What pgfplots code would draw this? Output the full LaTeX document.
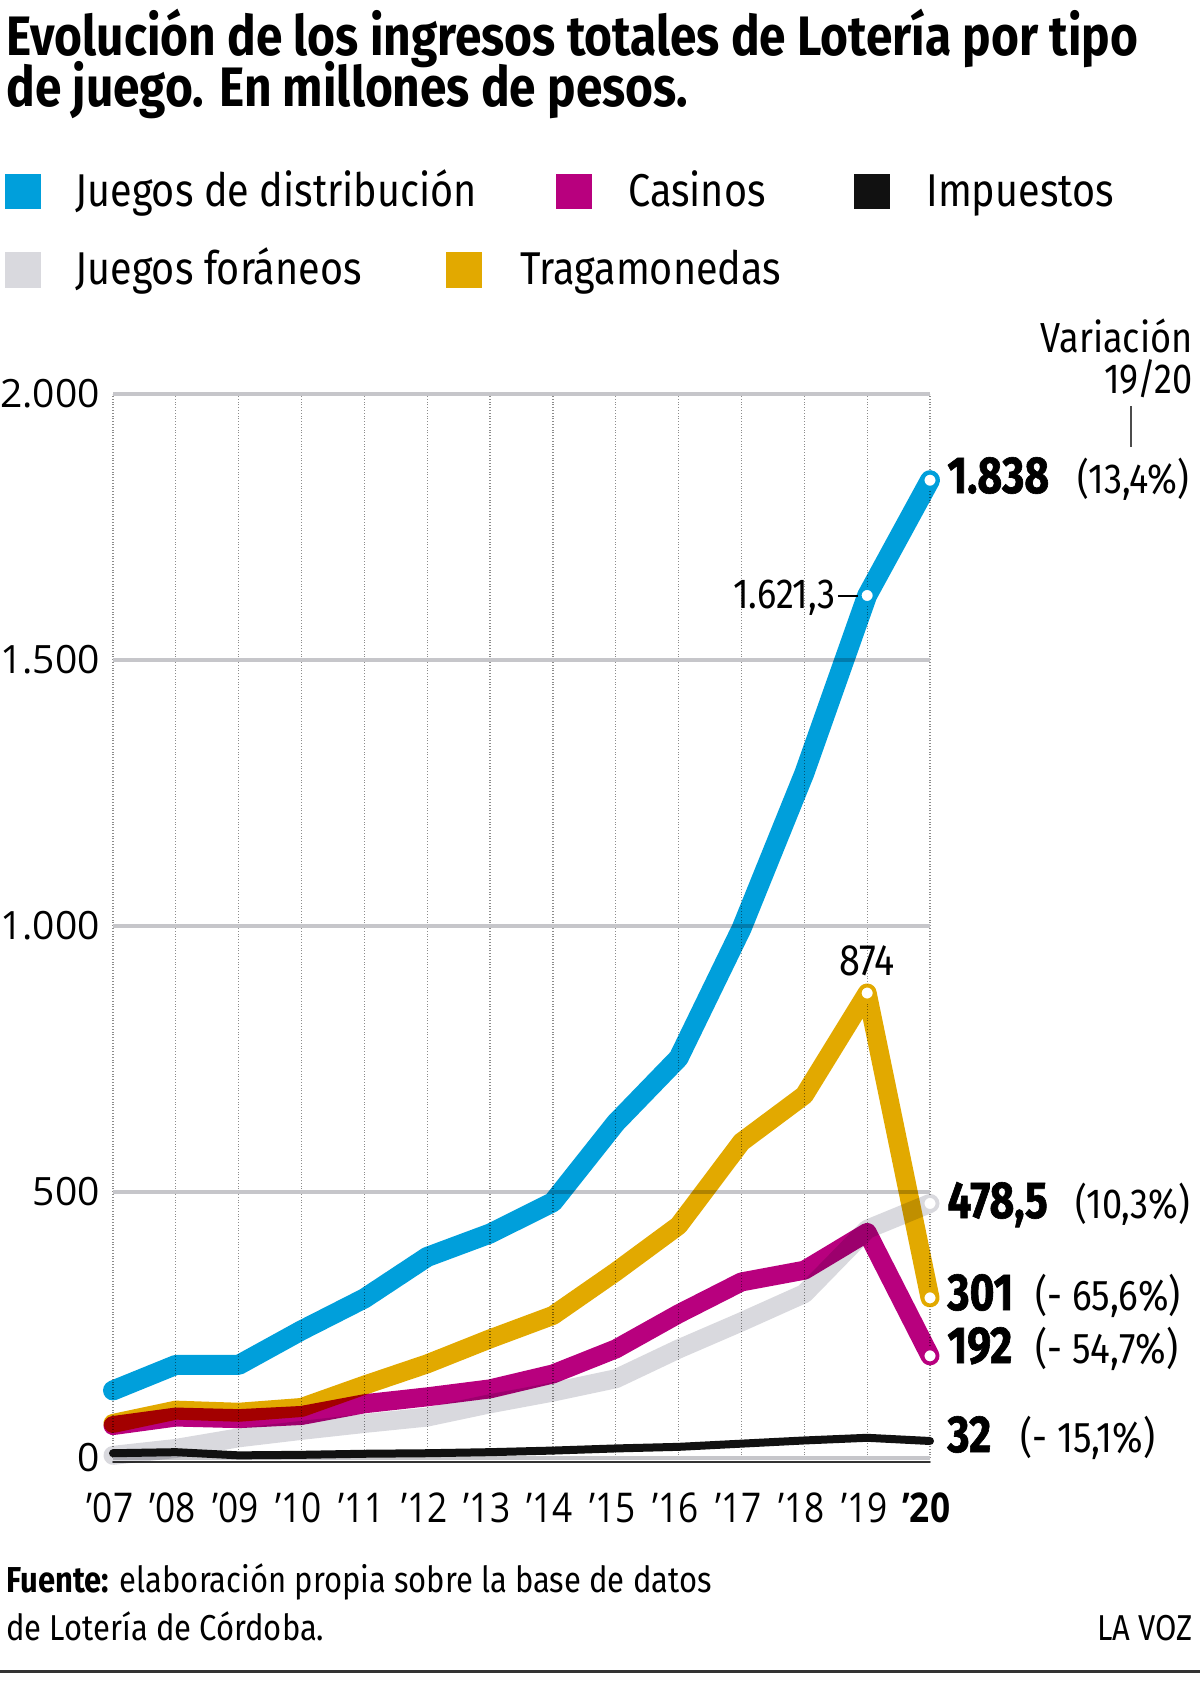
\documentclass[border=0pt]{standalone}
\usepackage{pgfplots}
\pgfplotsset{compat=1.18}
\usepackage{fontspec}
\setmainfont{Fira Sans}[FakeStretch=0.86]
\newfontfamily\heavy{Fira Sans}[FakeStretch=0.82, BoldFeatures={FakeBold=1.2}]
\newfontfamily\tickfont{Open Sans}[FakeStretch=0.86]
\newfontfamily\ytickfont{Open Sans}
\definecolor{cblue}{HTML}{009FDB}
\definecolor{cmag}{HTML}{B8007E}
\definecolor{cyel}{HTML}{E2A900}
\definecolor{cgray}{HTML}{D9D9DE}
\definecolor{cblack}{HTML}{111111}
\definecolor{gridgray}{HTML}{C6C6CA}
\newcommand{\fs}[1]{\fontsize{#1}{#1}\selectfont}
\begin{document}
\begin{tikzpicture}
\path[use as bounding box] (0,0) rectangle (600pt,-842.5pt);
\begin{axis}[
  at={(56.5pt,-729pt)}, anchor=south west,
  width=408.5pt, height=532pt, scale only axis,
  xmin=2007, xmax=2020, ymin=0, ymax=2000,
  clip=false,
  axis line style={draw=none},
  major tick length=0pt,
  xtick={2007,2008,2009,2010,2011,2012,2013,2014,2015,2016,2017,2018,2019,2020},
  xticklabels={\llap{’}07,\llap{’}08,\llap{’}09,\llap{’}10,\llap{’}11,\llap{’}12,\llap{’}13,\llap{’}14,\llap{’}15,\llap{’}16,\llap{’}17,\llap{’}18,\llap{’}19,\textbf{\llap{’}20}},
  ytick={0,500,1000,1500,2000},
  yticklabels={0,500,1.000,1.500,2.000},
  ymajorgrids, xmajorgrids,
  y grid style={gridgray, line width=2pt},
  x grid style={black!45, densely dotted, line width=0.6pt},
  yticklabel style={font=\ytickfont\fs{19.5}, anchor=east, inner sep=0pt, xshift=-6.5pt},
  xticklabel style={font=\tickfont\fs{20.5}, anchor=base, yshift=-32pt},
  every axis plot/.append style={line join=round, line cap=round},
]
\addplot[black!80, line width=0.8pt] coordinates {(2007,-8) (2020,-8)};
% Juegos de distribucion
\addplot[cblue, line width=10pt, blend mode=multiply] coordinates {
(2007,127)(2008,175)(2009,175)(2010,240)(2011,300)(2012,378)(2013,422)(2014,481)(2015,630)(2016,752)(2017,995)(2018,1287)(2019,1621.3)(2020,1838)};
% Tragamonedas
\addplot[cyel, line width=9.5pt, blend mode=multiply] coordinates {
(2007,65)(2008,90)(2009,86)(2010,95)(2011,137)(2012,177)(2013,224)(2014,268)(2015,350)(2016,437)(2017,594)(2018,682)(2019,874)(2020,301)};
% Casinos
\addplot[cmag, line width=9.5pt, blend mode=multiply] coordinates {
(2007,61)(2008,77)(2009,74)(2010,80)(2011,102)(2012,115)(2013,130)(2014,158)(2015,205)(2016,271)(2017,331)(2018,353)(2019,424)(2020,192)};
% Juegos foraneos
\addplot[cgray, line width=9.5pt, blend mode=multiply] coordinates {
(2007,5)(2008,18)(2009,38)(2010,52)(2011,65)(2012,77)(2013,102)(2014,124)(2015,149)(2016,205)(2017,256)(2018,309)(2019,430)(2020,478.5)};
% Impuestos
\addplot[cblack, line width=4pt] coordinates {
(2007,9)(2008,11)(2009,5)(2010,6)(2011,8)(2012,9)(2013,11)(2014,14)(2015,18)(2016,21)(2017,27)(2018,33)(2019,38)(2020,32)};
% markers
\addplot[only marks, mark=*, mark size=3.6pt, mark options={fill=white, draw=cblue, line width=1.6pt}] coordinates {(2019,1621.3)(2020,1838)};
\addplot[only marks, mark=*, mark size=3.6pt, mark options={fill=white, draw=cyel, line width=1.6pt}] coordinates {(2019,874)(2020,301)};
\addplot[only marks, mark=*, mark size=3.6pt, mark options={fill=white, draw=cmag, line width=1.6pt}] coordinates {(2020,192)};
\addplot[only marks, mark=*, mark size=3.6pt, mark options={fill=white, draw=cgray, line width=1.6pt}] coordinates {(2020,478.5)};
\end{axis}
\begin{scope}[x=0.5pt, y=-0.5pt]
% title
\node[anchor=base west, inner sep=0] at (6,56) {\bfseries\fs{27.8}Evolución de los ingresos totales de Lotería por tipo};
\node[anchor=base west, inner sep=0] at (6,107) {\bfseries\fs{27.8}de juego. En millones de pesos.};
% legend
\fill[cblue] (5,174) rectangle (41,209);
\node[anchor=base west, inner sep=0] at (75,206) {\fs{23}Juegos de distribución};
\fill[cmag] (556,174) rectangle (592,209);
\node[anchor=base west, inner sep=0] at (628,206) {\fs{23}Casinos};
\fill[cblack] (854,174) rectangle (890,209);
\node[anchor=base west, inner sep=0] at (926,206) {\fs{23}Impuestos};
\fill[cgray] (5,252) rectangle (41,288);
\node[anchor=base west, inner sep=0] at (75,285) {\fs{23}Juegos foráneos};
\fill[cyel] (446,252) rectangle (482,288);
\node[anchor=base west, inner sep=0] at (520,285) {\fs{23}Tragamonedas};
% variation header
\node[anchor=base east, inner sep=0] at (1193,352) {\fs{21}Variación};
\node[anchor=base east, inner sep=0] at (1193,393) {\fs{21}19/20};
\draw[black!70, line width=0.8pt] (1131,406) -- (1131,447);
% end labels
\node[anchor=base west, inner sep=0] at (947,493) {\heavy\bfseries\fs{26}1.838};
\node[anchor=base west, inner sep=0] at (1077,493) {\fs{21}(13,4\%)};
\node[anchor=base west, inner sep=0] at (947,1218) {\heavy\bfseries\fs{26}478,5};
\node[anchor=base west, inner sep=0] at (1075,1218) {\fs{21}(10,3\%)};
\node[anchor=base west, inner sep=0] at (947,1310) {\heavy\bfseries\fs{26}301};
\node[anchor=base west, inner sep=0] at (1035,1310) {\fs{21.5}(- 65,6\%)};
\node[anchor=base west, inner sep=0] at (947,1363) {\heavy\bfseries\fs{26}192};
\node[anchor=base west, inner sep=0] at (1035,1363) {\fs{21.5}(- 54,7\%)};
\node[anchor=base west, inner sep=0] at (947,1452) {\heavy\bfseries\fs{26}32};
\node[anchor=base west, inner sep=0] at (1020,1452) {\fs{21.5}(- 15,1\%)};
% annotations
\node[anchor=base east, inner sep=0] at (836,608) {\fs{21}1.621,3};
\draw[black, line width=0.7pt] (838,596) -- (858,596);
\node[anchor=base, inner sep=0] at (867,975) {\fs{22}874};
% footer
\node[anchor=base west, inner sep=0] at (6,1592) {\fs{18}\textbf{Fuente:} elaboración propia sobre la base de datos};
\node[anchor=base west, inner sep=0] at (6,1640) {\fs{18}de Lotería de Córdoba.};
\node[anchor=base east, inner sep=0] at (1193,1640) {\fs{18}LA VOZ};
\draw[black!80, line width=1.5pt] (0,1671) -- (1200,1671);
\end{scope}
\end{tikzpicture}
\end{document}
